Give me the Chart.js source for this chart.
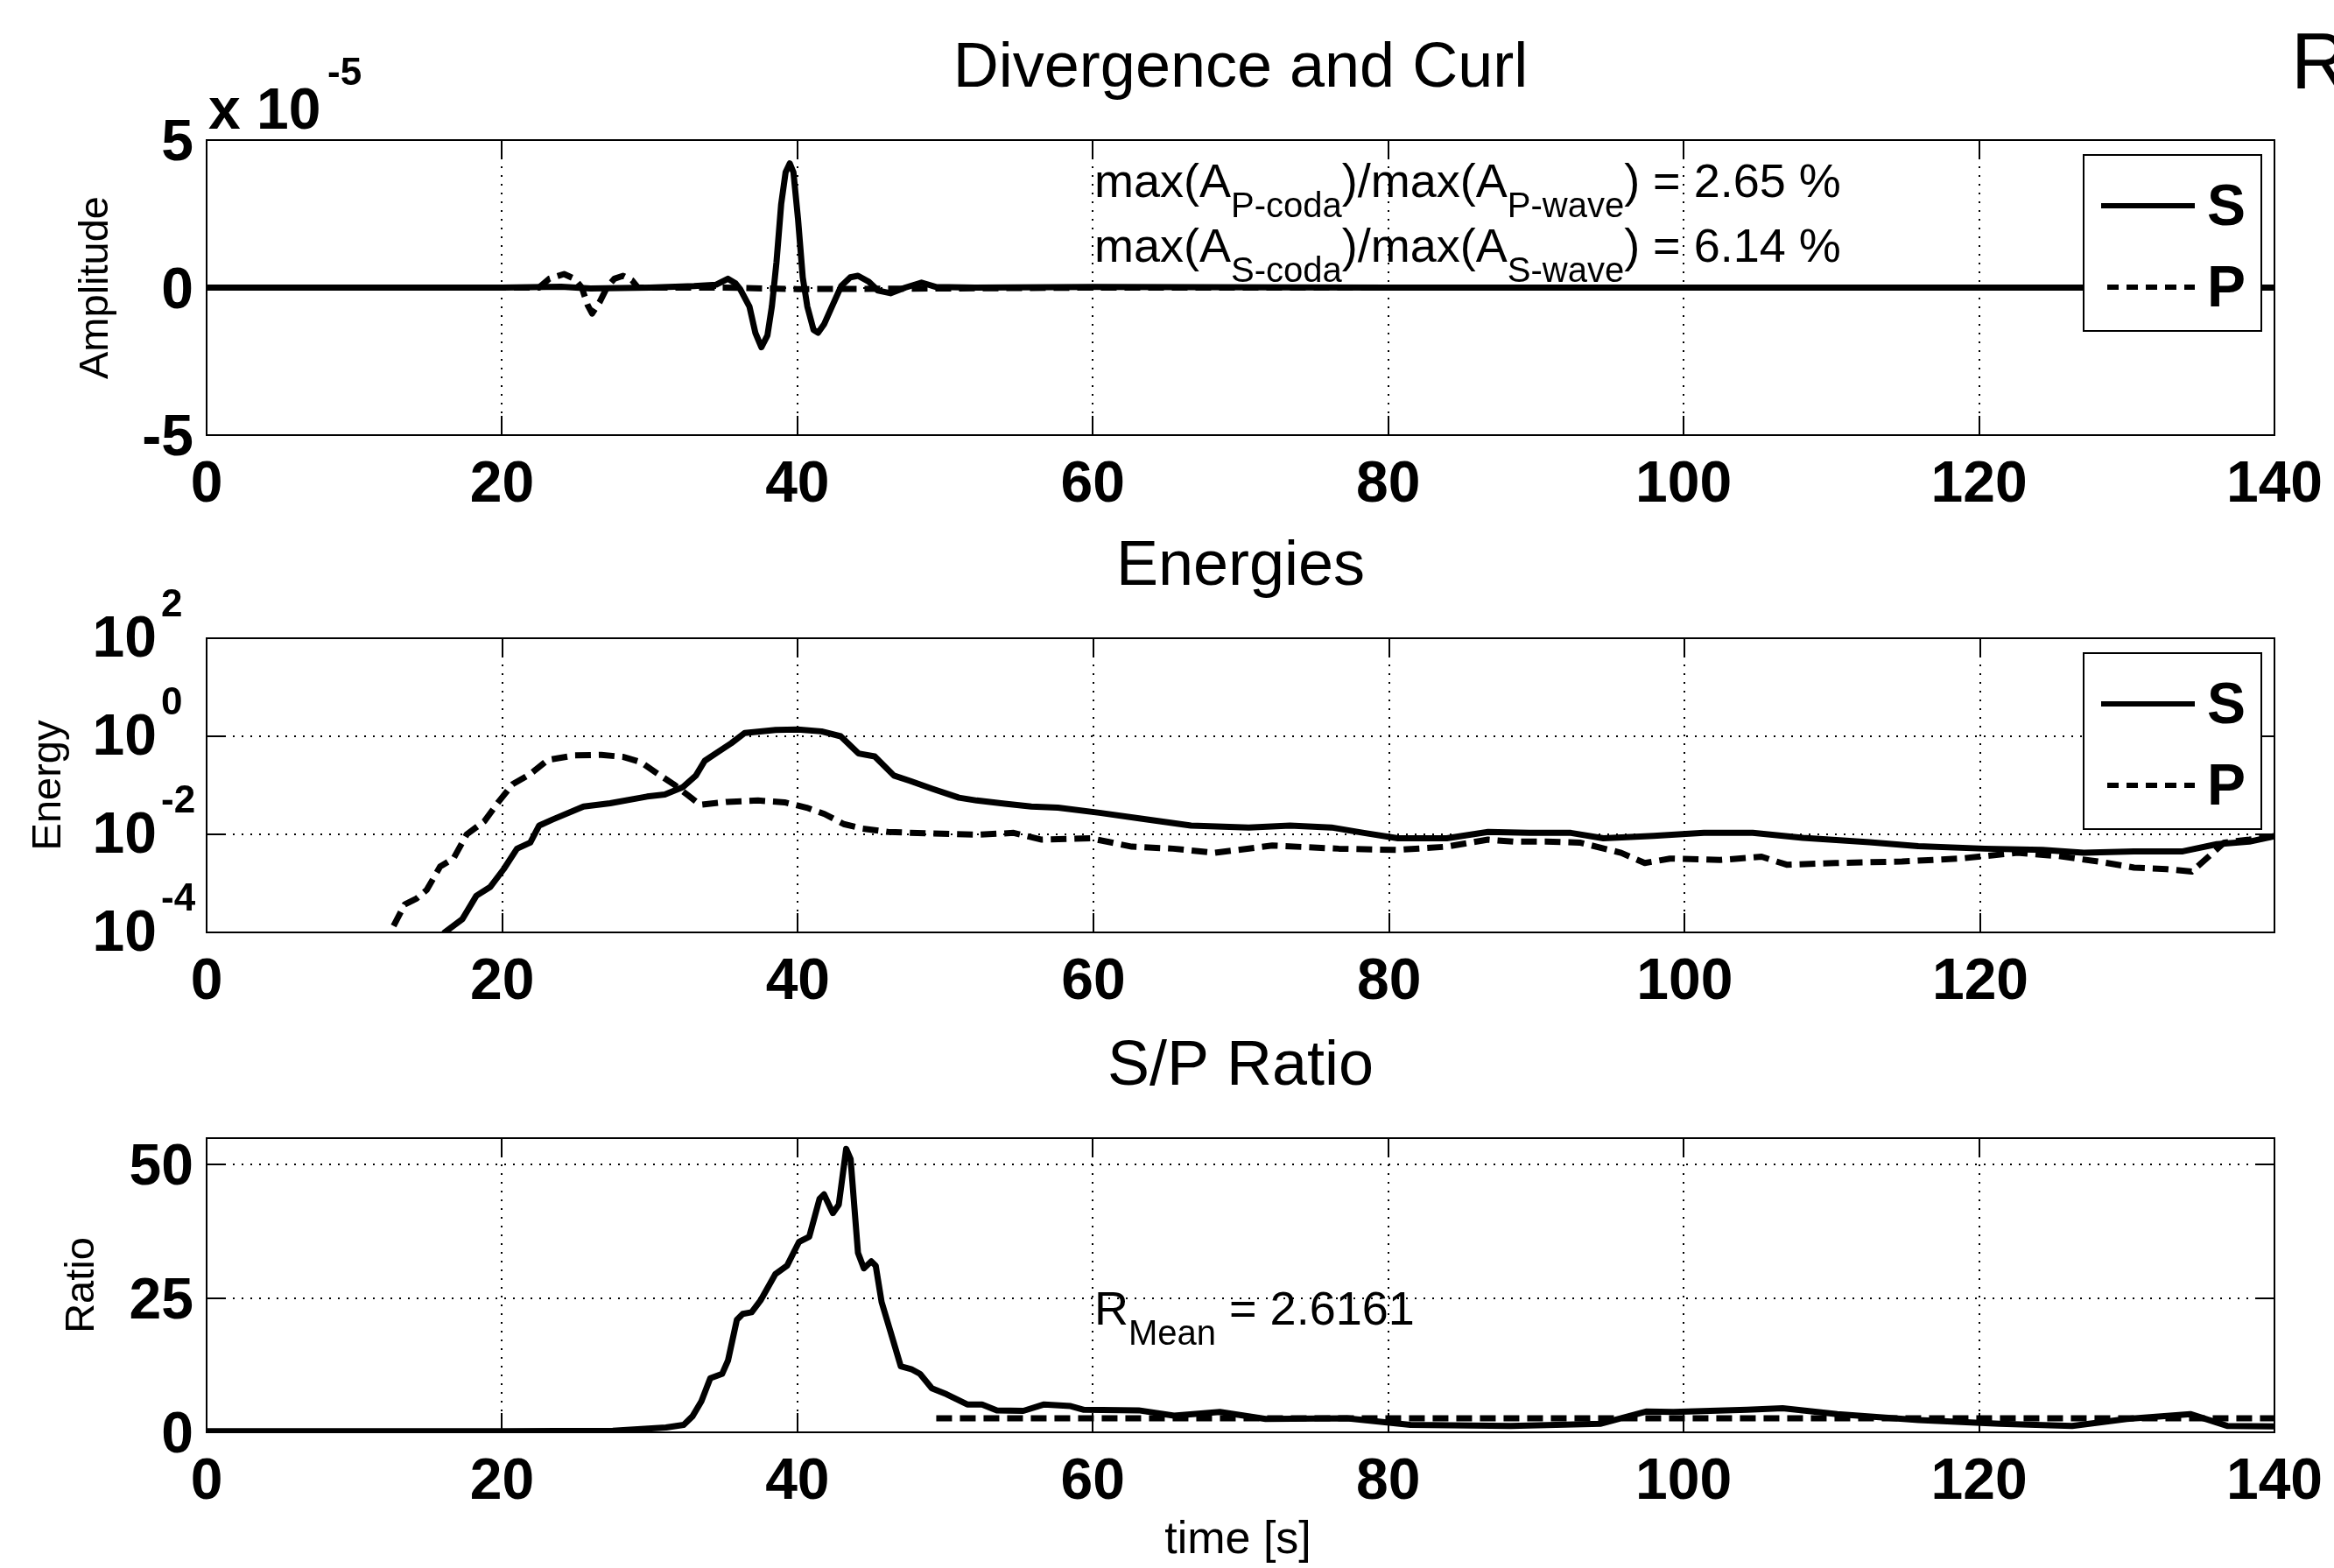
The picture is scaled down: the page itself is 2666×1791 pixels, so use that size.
<!DOCTYPE html>
<html>
<head>
<meta charset="utf-8">
<script src="https://cdn.jsdelivr.net/npm/chart.js@4/dist/chart.umd.min.js"></script>
<style>
  html, body { margin: 0; padding: 0; background: #ffffff; }
  #wrap { position: relative; width: 2666px; height: 1791px; overflow: hidden; background: #ffffff; }
  #wrap canvas { position: absolute; left: 0; top: 0; }
</style>
</head>
<body>
<div id="wrap">
  <canvas id="c1" width="2666" height="1791"></canvas>
  <canvas id="c2" width="2666" height="1791"></canvas>
  <canvas id="c3" width="2666" height="1791"></canvas>
</div>
<script>
// ---------------- DATA ----------------
// Panel 1: Divergence and Curl amplitudes (in units of 1e-5)
const ampTimeS = [0, 10, 20, 24, 26, 30, 33, 34.5, 35.3, 35.8, 36.12, 36.75, 37.15, 37.56, 37.97, 38.27, 38.58, 38.9, 39.2, 39.48, 39.73, 40.04, 40.36, 40.67, 41.09, 41.4, 41.82, 42.34, 42.96, 43.58, 44.1, 44.83, 45.45, 46.3, 47.3, 48.4, 49.4, 52, 60, 80, 100, 120, 140];
const ampS     = [0, 0, 0, 0.03, -0.03, 0, 0.05, 0.1, 0.3, 0.15, -0.05, -0.64, -1.53, -2.02, -1.62, -0.64, 0.85, 2.83, 3.91, 4.21, 3.91, 2.33, 0.35, -0.64, -1.43, -1.53, -1.23, -0.64, 0.05, 0.35, 0.4, 0.2, -0.1, -0.19, 0.0, 0.17, 0.02, 0, 0.02, 0, 0, 0, 0];
const ampTimeP = [0, 22.5, 23.2, 24.2, 24.9, 25.4, 25.8, 26.1, 26.6, 27.1, 27.6, 28.2, 28.8, 29.2, 35, 40, 50, 60, 140];
const ampP     = [0, 0, 0.3, 0.46, 0.3, 0, -0.6, -0.88, -0.5, 0, 0.3, 0.4, 0.25, 0, 0, -0.05, -0.03, 0, 0];

// Panel 2: Energies (log scale)
const enTimeS = [15.5, 16.1, 17.3, 18.25, 19.2, 20.1, 21.0, 21.9, 22.5, 23.4, 25.5, 27.3, 29.8, 31.0, 32.2, 33.1, 33.7, 34.6, 35.5, 36.4, 38.5, 40.0, 41.6, 42.9, 44.1, 45.2, 46.5, 47.6, 49.1, 50.9, 52.1, 54.0, 55.8, 57.6, 60.4, 63.2, 66.6, 70.5, 73.3, 76.1, 78.3, 80.6, 83.9, 86.7, 89.5, 92.3, 94.5, 97.9, 101.3, 104.6, 108.0, 112.5, 115.8, 120.3, 124.2, 127.0, 130.4, 133.7, 136.0, 138.2, 140];
const enS     = [5e-5, 1e-4, 1.86e-4, 5.6e-4, 8.5e-4, 1.95e-3, 5.1e-3, 6.8e-3, 1.51e-2, 2.0e-2, 3.7e-2, 4.3e-2, 5.9e-2, 6.5e-2, 9.1e-2, 0.158, 0.316, 0.479, 0.724, 1.17, 1.35, 1.38, 1.26, 1.0, 0.447, 0.389, 0.158, 0.123, 8.5e-2, 5.6e-2, 4.9e-2, 4.2e-2, 3.7e-2, 3.5e-2, 2.75e-2, 2.1e-2, 1.51e-2, 1.38e-2, 1.51e-2, 1.38e-2, 1.07e-2, 8.3e-3, 8.3e-3, 1.12e-2, 1.07e-2, 1.07e-2, 8.3e-3, 9.3e-3, 1.07e-2, 1.07e-2, 8.5e-3, 6.9e-3, 5.75e-3, 5.1e-3, 4.8e-3, 4.2e-3, 4.5e-3, 4.5e-3, 6.3e-3, 7.1e-3, 9.3e-3];
const enTimeP = [12.65, 13.4, 14.2, 14.9, 15.8, 16.7, 17.6, 18.8, 19.75, 20.7, 21.9, 23.1, 24.9, 26.7, 28.2, 29.4, 30.7, 31.6, 32.5, 33.4, 35.2, 37.3, 39.1, 40.6, 41.8, 43.1, 44.3, 46.1, 48.6, 52.1, 54.6, 56.5, 59.8, 62.6, 65.4, 68.2, 72.1, 76.6, 80.5, 83.9, 86.7, 88.4, 90.6, 92.9, 95.7, 97.3, 99.0, 102.4, 105.2, 106.9, 110.2, 114.7, 118.6, 122.5, 125.3, 128.1, 130.4, 132.6, 134.3, 135.4, 136.5, 138.2, 140];
const enP     = [1.35e-4, 3.7e-4, 4.9e-4, 7.4e-4, 2.2e-3, 3.2e-3, 1.0e-2, 1.86e-2, 4.6e-2, 0.105, 0.170, 0.331, 0.407, 0.417, 0.380, 0.295, 0.158, 0.105, 6.5e-2, 4.0e-2, 4.6e-2, 4.9e-2, 4.5e-2, 3.5e-2, 2.6e-2, 1.62e-2, 1.32e-2, 1.12e-2, 1.05e-2, 9.8e-3, 1.07e-2, 7.8e-3, 8.3e-3, 5.6e-3, 5.1e-3, 4.2e-3, 5.9e-3, 5.1e-3, 4.8e-3, 5.6e-3, 7.8e-3, 7.1e-3, 7.1e-3, 6.8e-3, 4.2e-3, 2.6e-3, 3.2e-3, 3.0e-3, 3.5e-3, 2.4e-3, 2.6e-3, 2.8e-3, 3.2e-3, 4.2e-3, 3.6e-3, 2.75e-3, 2.1e-3, 1.95e-3, 1.74e-3, 3.4e-3, 6.8e-3, 7.8e-3, 9.3e-3];

// Panel 3: S/P ratio
const ratioTime = [0, 10, 20, 27.5, 31.1, 32.3, 32.9, 33.5, 34.1, 34.9, 35.3, 35.9, 36.3, 36.9, 37.5, 38.5, 39.3, 40.1, 40.8, 41.5, 41.8, 42.4, 42.8, 43.3, 43.6, 44.1, 44.5, 45.0, 45.3, 45.7, 46.3, 47.0, 47.7, 48.3, 49.1, 50.1, 51.5, 52.5, 53.5, 55.3, 56.7, 58.5, 59.4, 63.1, 65.5, 68.6, 71.7, 77.2, 81.5, 88.3, 94.4, 97.5, 99.3, 104.3, 106.7, 110.4, 115.9, 121.4, 126.3, 130.0, 134.3, 136.8, 140];
const ratioVal  = [0.2, 0.2, 0.2, 0.3, 0.9, 1.4, 3.0, 5.8, 10.1, 10.9, 13.4, 21.0, 22.1, 22.4, 24.6, 29.5, 31.1, 35.5, 36.5, 43.6, 44.4, 40.9, 42.5, 52.9, 51.0, 33.5, 30.6, 31.9, 31.1, 24.3, 18.8, 12.3, 11.8, 10.9, 8.2, 7.1, 5.2, 5.2, 4.1, 4.0, 5.2, 4.9, 4.2, 4.1, 3.1, 3.8, 2.5, 2.6, 1.4, 1.2, 1.6, 3.9, 3.8, 4.2, 4.5, 3.4, 2.3, 1.6, 1.2, 2.5, 3.4, 1.2, 1.1];
const meanTime = [49.4, 140];
const meanVal  = [2.6161, 2.6161];

// Tick labels
const xTicks1 = [0, 20, 40, 60, 80, 100, 120, 140];
const xTicks2 = [0, 20, 40, 60, 80, 100, 120];
const yTicksAmp = [-5, 0, 5];
const yTicksEnergy = [1e-4, 1e-2, 1, 1e2];
const yTicksEnergyExp = ['-4', '-2', '0', '2'];
const yTicksRatio = [0, 25, 50];

// Texts
const titles = ['Divergence and Curl', 'Energies', 'S/P Ratio'];
const yTitles = ['Amplitude', 'Energy', 'Ratio'];
const xTitle = 'time [s]';
const seriesLabels = ['S', 'P'];
const annot1 = [{t: 'max(A'}, {t: 'P-coda', sub: true}, {t: ')/max(A'}, {t: 'P-wave', sub: true}, {t: ') = 2.65 %'}];
const annot2 = [{t: 'max(A'}, {t: 'S-coda', sub: true}, {t: ')/max(A'}, {t: 'S-wave', sub: true}, {t: ') = 6.14 %'}];
const annot3 = [{t: 'R'}, {t: 'Mean', sub: true}, {t: ' = 2.6161'}];

// ---------------- LAYOUT ----------------
const W = 2666, H = 1791;
const PLOT_L = 236, PLOT_R = 2598;
const PANELS = [{top: 160, bottom: 497}, {top: 729, bottom: 1065}, {top: 1300, bottom: 1636}];
const TICK_LEN = 22;
const FONT = "'Liberation Sans', Arial, Helvetica, sans-serif";
const DASH = [18, 9];
const LW = 7;

Chart.defaults.font.family = FONT;

function pts(xs, ys) { return xs.map((x, i) => ({x: x, y: ys[i]})); }

function richText(ctx, parts, x, y, mainSize, subSize, subDy) {
  let cx = x;
  ctx.textAlign = 'left';
  ctx.textBaseline = 'alphabetic';
  parts.forEach(p => {
    ctx.font = (p.sub ? subSize : mainSize) + 'px ' + FONT;
    ctx.fillText(p.t, cx, y + (p.sub ? subDy : 0));
    cx += ctx.measureText(p.t).width;
  });
}

function makeDecor(cfg) {
  return {
    id: 'decor' + cfg.idx,
    beforeDatasetsDraw(chart) {
      const ctx = chart.ctx, a = chart.chartArea, x = chart.scales.x, y = chart.scales.y;
      ctx.save();
      ctx.strokeStyle = '#000';
      ctx.lineWidth = 2;
      ctx.setLineDash([2, 8]);
      ctx.beginPath();
      x.ticks.forEach(t => {
        const px = Math.round(x.getPixelForValue(t.value));
        if (px > a.left + 3 && px < a.right - 3) { ctx.moveTo(px, a.top); ctx.lineTo(px, a.bottom); }
      });
      y.ticks.forEach(t => {
        const py = Math.round(y.getPixelForValue(t.value));
        if (py > a.top + 3 && py < a.bottom - 3) { ctx.moveTo(a.left, py); ctx.lineTo(a.right, py); }
      });
      ctx.stroke();
      ctx.setLineDash([]);
      ctx.beginPath();
      x.ticks.forEach(t => {
        const px = Math.round(x.getPixelForValue(t.value));
        ctx.moveTo(px, a.bottom); ctx.lineTo(px, a.bottom - TICK_LEN);
        ctx.moveTo(px, a.top); ctx.lineTo(px, a.top + TICK_LEN);
      });
      y.ticks.forEach(t => {
        const py = Math.round(y.getPixelForValue(t.value));
        ctx.moveTo(a.left, py); ctx.lineTo(a.left + TICK_LEN, py);
        ctx.moveTo(a.right, py); ctx.lineTo(a.right - TICK_LEN, py);
      });
      ctx.stroke();
      ctx.restore();
    },
    afterDatasetsDraw(chart) {
      const ctx = chart.ctx, a = chart.chartArea, x = chart.scales.x, y = chart.scales.y;
      ctx.save();
      // axes box
      ctx.strokeStyle = '#000';
      ctx.lineWidth = 2;
      ctx.setLineDash([]);
      ctx.strokeRect(a.left, a.top, a.right - a.left, a.bottom - a.top);

      ctx.fillStyle = '#000';
      // x tick labels
      ctx.font = 'bold 66px ' + FONT;
      ctx.textAlign = 'center';
      ctx.textBaseline = 'middle';
      x.ticks.forEach(t => {
        ctx.fillText(String(t.value), x.getPixelForValue(t.value), a.bottom + 58);
      });
      // y tick labels
      y.ticks.forEach((t, i) => {
        const py = y.getPixelForValue(t.value);
        if (cfg.logLabels) {
          ctx.font = 'bold 66px ' + FONT;
          ctx.textAlign = 'right';
          ctx.textBaseline = 'middle';
          ctx.fillText('10', 179, py + 3);
          ctx.font = 'bold 44px ' + FONT;
          ctx.textAlign = 'left';
          ctx.fillText(cfg.logLabels[i], 184, py - 37);
        } else {
          ctx.font = 'bold 66px ' + FONT;
          ctx.textAlign = 'right';
          ctx.textBaseline = 'middle';
          ctx.fillText(String(t.value), 221, py + 5);
        }
      });
      // title
      ctx.font = '72px ' + FONT;
      ctx.textAlign = 'center';
      ctx.textBaseline = 'alphabetic';
      ctx.fillText(cfg.title, (a.left + a.right) / 2, a.top - 61);
      // y axis title
      ctx.save();
      ctx.translate(cfg.yTitleX, (a.top + a.bottom) / 2);
      ctx.rotate(-Math.PI / 2);
      ctx.font = '47px ' + FONT;
      ctx.textAlign = 'center';
      ctx.textBaseline = 'middle';
      ctx.fillText(cfg.yTitle, 0, 0);
      ctx.restore();
      // legend
      if (cfg.legend) {
        const lx0 = 2380, lx1 = 2583, ly0 = a.top + 17, ly1 = a.top + 218;
        ctx.fillStyle = '#fff';
        ctx.fillRect(lx0, ly0, lx1 - lx0, ly1 - ly0);
        ctx.strokeStyle = '#000';
        ctx.lineWidth = 2;
        ctx.strokeRect(lx0, ly0, lx1 - lx0, ly1 - ly0);
        const rows = [a.top + 75, a.top + 168];
        chart.data.datasets.slice(0, 2).forEach((ds, i) => {
          ctx.strokeStyle = '#000';
          ctx.lineWidth = 6;
          ctx.lineCap = 'butt';
          ctx.setLineDash(ds.borderDash && ds.borderDash.length ? [13, 9] : []);
          ctx.beginPath();
          ctx.moveTo(ds.borderDash && ds.borderDash.length ? 2407 : 2400, rows[i]);
          ctx.lineTo(2507, rows[i]);
          ctx.stroke();
          ctx.setLineDash([]);
          ctx.fillStyle = '#000';
          ctx.font = 'bold 66px ' + FONT;
          ctx.textAlign = 'left';
          ctx.textBaseline = 'middle';
          ctx.fillText(ds.label, 2521, rows[i] + 4);
        });
      }
      ctx.fillStyle = '#000';
      if (cfg.extra) cfg.extra(ctx, a);
      ctx.restore();
    }
  };
}

function panel(id, cfg) {
  const p = PANELS[cfg.idx];
  return new Chart(document.getElementById(id), {
    type: 'line',
    data: {datasets: cfg.datasets},
    options: {
      responsive: false,
      animation: false,
      devicePixelRatio: 1,
      layout: {padding: {left: PLOT_L, right: W - PLOT_R, top: p.top, bottom: H - p.bottom}},
      plugins: {legend: {display: false}, tooltip: {enabled: false}, title: {display: false}},
      elements: {point: {radius: 0, hoverRadius: 0}, line: {tension: 0}},
      scales: {
        x: {
          type: 'linear', min: 0, max: cfg.xMax,
          ticks: {display: false}, grid: {display: false}, border: {display: false},
          afterFit: s => { s.height = 0; },
          afterBuildTicks: s => { s.ticks = cfg.xTicks.map(v => ({value: v})); }
        },
        y: {
          type: cfg.yType, min: cfg.yMin, max: cfg.yMax,
          ticks: {display: false}, grid: {display: false}, border: {display: false},
          afterFit: s => { s.width = 0; },
          afterBuildTicks: s => { s.ticks = cfg.yTicks.map(v => ({value: v})); }
        }
      }
    },
    plugins: [makeDecor(cfg)]
  });
}

function lineDs(label, data, dashed, extra) {
  return Object.assign({
    label: label,
    data: data,
    borderColor: '#000',
    backgroundColor: '#000',
    borderWidth: LW,
    borderDash: dashed ? DASH : [],
    borderCapStyle: 'butt',
    borderJoinStyle: 'round',
    pointRadius: 0,
    fill: false,
    order: dashed ? 1 : 0
  }, extra || {});
}

// Panel 1
panel('c1', {
  idx: 0, xMax: 140, xTicks: xTicks1, yType: 'linear', yMin: -5, yMax: 5, yTicks: yTicksAmp,
  title: titles[0], yTitle: yTitles[0], yTitleX: 110, legend: true,
  datasets: [lineDs(seriesLabels[0], pts(ampTimeS, ampS), false), lineDs(seriesLabels[1], pts(ampTimeP, ampP), true)],
  extra: (ctx, a) => {
    ctx.textAlign = 'left';
    ctx.textBaseline = 'alphabetic';
    ctx.font = 'bold 66px ' + FONT;
    ctx.fillText('x 10', 238, 147);
    ctx.font = 'bold 44px ' + FONT;
    ctx.fillText('-5', 374, 97);
    richText(ctx, annot1, 1250, 225, 54, 40, 23);
    richText(ctx, annot2, 1250, 299, 54, 40, 23);
    ctx.font = '90px ' + FONT;
    ctx.textAlign = 'left';
    ctx.fillText('R', 2617, 101);
  }
});

// Panel 2
panel('c2', {
  idx: 1, xMax: 139.9, xTicks: xTicks2, yType: 'logarithmic', yMin: 1e-4, yMax: 1e2, yTicks: yTicksEnergy,
  logLabels: yTicksEnergyExp,
  title: titles[1], yTitle: yTitles[1], yTitleX: 56, legend: true,
  datasets: [lineDs(seriesLabels[0], pts(enTimeS, enS), false, {clip: 0}), lineDs(seriesLabels[1], pts(enTimeP, enP), true, {clip: 0})]
});

// Panel 3
panel('c3', {
  idx: 2, xMax: 140, xTicks: xTicks1, yType: 'linear', yMin: 0, yMax: 54.9, yTicks: yTicksRatio,
  title: titles[2], yTitle: yTitles[2], yTitleX: 94, legend: false,
  datasets: [lineDs('S/P', pts(ratioTime, ratioVal), false), lineDs('Mean', pts(meanTime, meanVal), true)],
  extra: (ctx, a) => {
    richText(ctx, annot3, 1250, 1513, 54, 40, 23);
    ctx.font = '52px ' + FONT;
    ctx.textAlign = 'center';
    ctx.textBaseline = 'middle';
    ctx.fillText(xTitle, 1414, 1760);
  }
});
</script>
</body>
</html>
